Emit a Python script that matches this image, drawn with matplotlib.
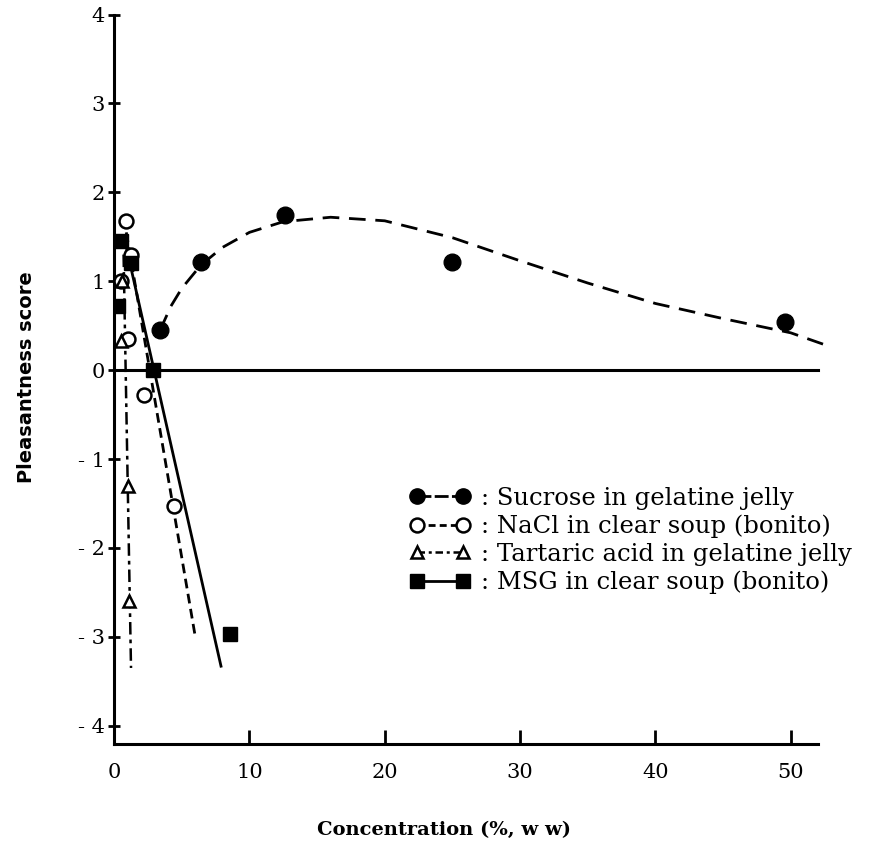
import matplotlib.pyplot as plt

# values
sucrose_x = [3.4, 6.4, 12.6, 25.0, 49.6]
sucrose_y = [0.45, 1.22, 1.74, 1.22, 0.54]
# hand-traced fitted curve for sucrose
sucrose_curve_x = [3.4, 4.2, 5.0, 6.4, 8.0, 10.0, 12.5, 16.0, 20.0, 25.0, 30.0, 35.0, 40.0, 45.0, 50.0, 53.0]
sucrose_curve_y = [0.45, 0.72, 0.92, 1.18, 1.38, 1.55, 1.67, 1.72, 1.68, 1.49, 1.23, 0.98, 0.75, 0.58, 0.42, 0.26]

nacl_x = [0.9, 0.5, 1.25, 1.0, 2.2, 4.4]
nacl_y = [1.68, 1.0, 1.3, 0.35, -0.28, -1.53]
nacl_line_x = [0.9, 6.0]
nacl_line_y = [1.55, -3.0]

tartaric_x = [0.5, 0.6, 1.0, 1.1]
tartaric_y = [0.33, 1.0, -1.3, -2.6]
tartaric_line_x = [0.7, 1.25]
tartaric_line_y = [1.3, -3.35]

msg_x = [0.3, 0.5, 1.25, 2.9, 8.6]
msg_y = [0.72, 1.45, 1.2, 0.0, -2.97]
msg_line_x = [0.8, 7.9]
msg_line_y = [1.45, -3.33]

yticks = [-4, -3, -2, -1, 0, 1, 2, 3, 4]
ytick_labels = ['- 4', '- 3', '- 2', '- 1', '0', '1', '2', '3', '4']
xticks = [0, 10, 20, 30, 40, 50]

labels = [': Sucrose in gelatine jelly',
          ': NaCl in clear soup (bonito)',
          ': Tartaric acid in gelatine jelly',
          ': MSG in clear soup (bonito)']

fig = plt.figure(figsize=(8.71, 8.43), dpi=100)
ax = fig.add_axes([0.131, 0.118, 0.839, 0.870])

# zero line
ax.axhline(0, xmin=0, xmax=52 / 54, color='black', lw=2.2, zorder=1)

# fitted lines
ax.plot(sucrose_curve_x, sucrose_curve_y, color='black', lw=2, ls=(0, (6, 3.5)))
ax.plot(nacl_line_x, nacl_line_y, color='black', lw=2, ls=(0, (3.5, 2)))
ax.plot(tartaric_line_x, tartaric_line_y, color='black', lw=1.8, ls=(0, (5, 2, 1.5, 2)))
ax.plot(msg_line_x, msg_line_y, color='black', lw=2, ls='-')

# data points
ax.plot(sucrose_x, sucrose_y, 'o', color='black', ms=12, zorder=3)
ax.plot(nacl_x, nacl_y, 'o', mfc='white', mec='black', mew=1.8, ms=10, zorder=3)
ax.plot(tartaric_x, tartaric_y, '^', mfc='white', mec='black', mew=1.8, ms=9, zorder=3)
ax.plot(msg_x, msg_y, 's', color='black', ms=10, zorder=3)

ax.set_xlim(0, 54)
ax.set_ylim(-4.2, 4.05)

for s in ['top', 'right']:
    ax.spines[s].set_visible(False)
ax.spines['left'].set_bounds(-4.2, 4)
ax.spines['bottom'].set_bounds(0, 52)
ax.spines['left'].set_linewidth(2.2)
ax.spines['bottom'].set_linewidth(2.2)

ax.set_yticks(yticks)
ax.set_yticklabels(ytick_labels)
ax.set_xticks(xticks)
ax.tick_params(axis='y', direction='inout', length=9, width=2, labelsize=15, pad=2)
ax.tick_params(axis='x', direction='in', length=10, width=2, labelsize=15, pad=14)
for t in ax.get_xticklabels() + ax.get_yticklabels():
    t.set_fontfamily('DejaVu Serif')

ax.set_xlabel('Concentration (%, w w)', fontsize=14, fontweight='bold', family='DejaVu Serif')
ax.xaxis.set_label_coords(0.451, -0.105)
ax.set_ylabel('Pleasantness score', fontsize=14, fontweight='bold', labelpad=30)

# legend built from proxy lines, marker on both ends
h1, = ax.plot([], [], 'o', color='black', ms=11, lw=2, ls=(0, (5, 1.2)))
h2, = ax.plot([], [], 'o', color='black', mfc='white', mec='black', mew=1.8, ms=10, lw=2, ls=(0, (2.5, 1.5)))
h3, = ax.plot([], [], '^', color='black', mfc='white', mec='black', mew=1.8, ms=9, lw=1.8,
              ls=(0, (3, 1.5, 1.2, 1.5)))
h4, = ax.plot([], [], 's', color='black', ms=10, lw=2, ls='-')
leg = ax.legend([h1, h2, h3, h4], labels, loc='upper left', bbox_to_anchor=(0.375, 0.38),
                frameon=False, numpoints=2, handlelength=2.5, handletextpad=0.4,
                labelspacing=0.2, prop={'family': 'DejaVu Serif', 'size': 17.5})

fig.savefig('out.png', dpi=100)
